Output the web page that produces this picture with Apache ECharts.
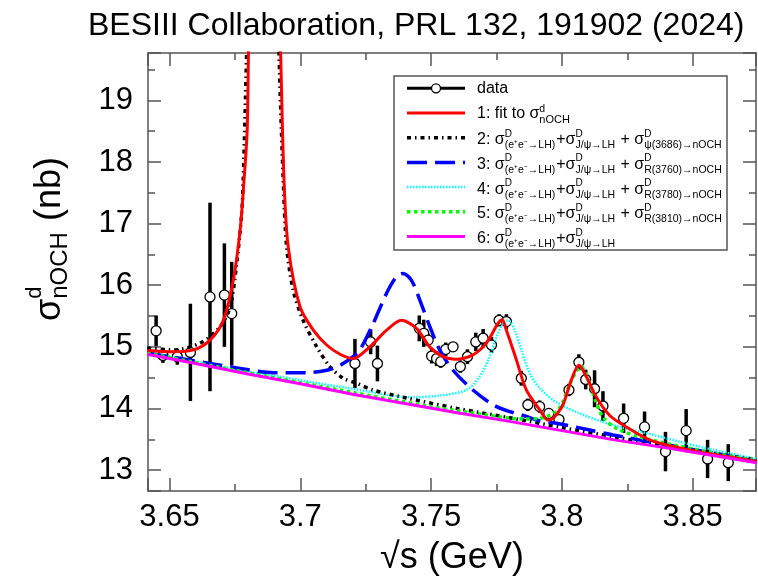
<!DOCTYPE html>
<html>
<head>
<meta charset="utf-8">
<title>BESIII nOCH cross section</title>
<script src="https://cdn.jsdelivr.net/npm/echarts@6.0.0/dist/echarts.min.js"></script>
<style>
html,body{margin:0;padding:0;background:#fff;}
#chart{width:758px;height:582px;}
</style>
</head>
<body>
<div id="chart"></div>
<script>
// ---------------- data ----------------
const titleText = 'BESIII Collaboration, PRL 132, 191902 (2024)';
const xAxisName = '√s (GeV)';
const XMIN = 3.6418, XMAX = 3.8742, YMIN = 12.66, YMAX = 19.77;

// measured points: sqrt(s) [GeV], sigma [nb], error [nb]
const dataX = [3.6449, 3.6475, 3.6530, 3.6580, 3.6655, 3.6710, 3.6738,
  3.7209, 3.7269, 3.7295, 3.7455, 3.7472, 3.7489, 3.7502, 3.7521, 3.7537, 3.7556, 3.7584,
  3.7612, 3.7639, 3.7671, 3.7699, 3.7731, 3.7760, 3.7788, 3.7845, 3.7870, 3.7915, 3.7950,
  3.7989, 3.8027, 3.8065, 3.8091, 3.8125, 3.8157, 3.8236, 3.8316, 3.8396, 3.8475, 3.8557, 3.8636];
const dataY = [15.26, 14.86, 14.84, 14.91, 15.81, 15.84, 15.54,
  14.73, 15.08, 14.73, 15.30, 15.22, 15.11, 14.85, 14.81, 14.76, 14.96, 15.00,
  14.68, 14.84, 15.08, 15.14, 15.03, 15.43, 15.41, 14.49, 14.06, 14.03, 13.92,
  13.82, 14.30, 14.75, 14.47, 14.32, 14.04, 13.84, 13.70, 13.30, 13.64, 13.18, 13.12];
const dataErr = [0.25, 0.12, 0.13, 0.79, 1.53, 0.84, 0.84,
  0.40, 0.20, 0.29, 0.21, 0.22, 0.10, 0.12, 0.12, 0.10, 0.11, 0.08,
  0.10, 0.12, 0.15, 0.15, 0.13, 0.10, 0.12, 0.12, 0.10, 0.10, 0.08,
  0.08, 0.10, 0.13, 0.16, 0.30, 0.24, 0.24, 0.25, 0.32, 0.35, 0.31, 0.30];

// 1: total fit
const fitX = [3.6415, 3.6515, 3.6592, 3.6655, 3.6706, 3.6744, 3.6770, 3.6785, 3.6797, 3.6802, 3.6820,
  3.6860, 3.6900, 3.6925, 3.6938, 3.6954, 3.6999, 3.7050, 3.7101, 3.7152, 3.7202, 3.7266, 3.7330,
  3.7387, 3.7444, 3.7495, 3.7546, 3.7597, 3.7660, 3.7711, 3.7756, 3.7772, 3.7788, 3.7826, 3.7864,
  3.7915, 3.7947, 3.7966, 3.8004, 3.8036, 3.8065, 3.8093, 3.8131, 3.8182, 3.8246, 3.8335, 3.8449,
  3.8600, 3.8745];
const fitY = [14.94, 14.92, 14.95, 15.11, 15.43, 16.08, 16.89, 17.70, 18.51, 19.77, 24.0,
  40.0, 24.0, 19.77, 17.70, 16.62, 15.65, 15.27, 15.03, 14.88, 14.81, 15.00, 15.27,
  15.43, 15.30, 15.00, 14.84, 14.80, 14.87, 15.06, 15.38, 15.44, 15.27, 14.79, 14.30,
  13.98, 13.81, 13.84, 14.06, 14.46, 14.70, 14.52, 14.19, 13.89, 13.70, 13.49, 13.36,
  13.24, 13.14];

// 2: continuum + J/psi + psi(3686)
const psiX = [3.6415, 3.6515, 3.6617, 3.6694, 3.6732, 3.6757, 3.6776, 3.6782, 3.6795, 3.6820, 3.6860,
  3.6900, 3.6919, 3.6935, 3.6948, 3.6973, 3.7011, 3.7063, 3.7113, 3.7164, 3.7215, 3.7277, 3.7406,
  3.7600, 3.7800, 3.8000, 3.8200, 3.8400, 3.8600, 3.8745];
const psiY = [14.98, 14.95, 15.06, 15.33, 15.65, 16.35, 17.16, 17.70, 19.77, 24.0, 40.0,
  24.0, 19.77, 17.70, 16.62, 15.92, 15.43, 15.00, 14.68, 14.49, 14.41, 14.30, 14.17,
  14.00, 13.85, 13.69, 13.54, 13.40, 13.26, 13.16];

// 3: continuum + J/psi + R(3760)
const r3760X = [3.6415, 3.6643, 3.6770, 3.6897, 3.7024, 3.7101, 3.7152, 3.7202, 3.7228, 3.7279, 3.7330,
  3.7368, 3.7393, 3.7425, 3.7457, 3.7495, 3.7533, 3.7584, 3.7660, 3.7750, 3.7864, 3.7915, 3.7979,
  3.8106, 3.8195, 3.8400, 3.8600, 3.8745];
const r3760Y = [14.90, 14.74, 14.65, 14.58, 14.58, 14.62, 14.70, 14.84, 14.95, 15.38, 15.87,
  16.14, 16.19, 16.08, 15.76, 15.33, 14.95, 14.62, 14.30, 14.03, 13.87, 13.80, 13.76,
  13.65, 13.57, 13.41, 13.26, 13.14];

// 4: continuum + J/psi + R(3780)
const r3780X = [3.6415, 3.6600, 3.6800, 3.7000, 3.7200, 3.7431, 3.7533, 3.7635, 3.7686, 3.7724, 3.7750,
  3.7775, 3.7794, 3.7820, 3.7845, 3.7877, 3.7915, 3.7979, 3.8068, 3.8143, 3.8220, 3.8322, 3.8449,
  3.8576, 3.8745];
const r3780Y = [14.91, 14.76, 14.60, 14.46, 14.32, 14.18, 14.21, 14.30, 14.52, 14.84, 15.16,
  15.38, 15.43, 15.27, 14.95, 14.57, 14.33, 14.10, 13.92, 13.80, 13.70, 13.60, 13.46,
  13.33, 13.18];

// 5: continuum + J/psi + R(3810)
const r3810X = [3.6415, 3.6800, 3.7200, 3.7500, 3.7700, 3.7850, 3.7915, 3.7979, 3.8004, 3.8029, 3.8055,
  3.8074, 3.8093, 3.8106, 3.8131, 3.8157, 3.8207, 3.8296, 3.8424, 3.8600, 3.8745];
const r3810Y = [14.90, 14.58, 14.26, 14.03, 13.90, 13.83, 13.84, 13.95, 14.11, 14.38, 14.60,
  14.68, 14.55, 14.41, 14.10, 13.86, 13.68, 13.54, 13.41, 13.26, 13.15];

// 6: continuum + J/psi
const bgX = [3.6415, 3.66, 3.68, 3.70, 3.72, 3.74, 3.76, 3.78, 3.80, 3.82, 3.84, 3.86, 3.8745];
const bgY = [14.88, 14.73, 14.56, 14.40, 14.23, 14.08, 13.93, 13.79, 13.64, 13.49, 13.36, 13.22, 13.12];

// legend texts (tokens: plain strings or stacked {sup, sub})
const S1 = {sup: 'D', sub: '(e⁺e⁻→LH)'};
const S2 = {sup: 'D', sub: 'J/ψ→LH'};
const legendTexts = [
  ['data'],
  ['1: fit to σ', {sup: 'd', sub: 'nOCH'}],
  ['2: σ', S1, '+σ', S2, ' + σ', {sup: 'D', sub: 'ψ(3686)→nOCH'}],
  ['3: σ', S1, '+σ', S2, ' + σ', {sup: 'D', sub: 'R(3760)→nOCH'}],
  ['4: σ', S1, '+σ', S2, ' + σ', {sup: 'D', sub: 'R(3780)→nOCH'}],
  ['5: σ', S1, '+σ', S2, ' + σ', {sup: 'D', sub: 'R(3810)→nOCH'}],
  ['6: σ', S1, '+σ', S2]
];
const yNameTokens = ['σ', {sup: 'd', sub: 'nOCH'}, ' (nb)'];

// ---------------- styles ----------------
const FF = '"Liberation Sans", Arial, Helvetica, sans-serif';
const FRAME = '#555';
const curveStyles = [
  {color: '#ff0000', width: 3, dash: 'solid'},
  {color: '#000000', width: 3.5, dash: [4, 4, 1.5, 4]},
  {color: '#0000ff', width: 3.5, dash: [20, 8]},
  {color: '#00ffff', width: 2.5, dash: [1.5, 1.5]},
  {color: '#00ff00', width: 3.5, dash: [3.5, 3.5]},
  {color: '#ff00ff', width: 3, dash: 'solid'}
];
const curveZ = [8, 5, 6, 4, 7, 9];

// ---------------- helpers ----------------
const mctx = document.createElement('canvas').getContext('2d');
function tw(s, size) { mctx.font = size + 'px ' + FF; return mctx.measureText(s).width; }
function txt(s, x, base, size) {
  return {type: 'text', x: x, y: base - 0.34 * size, silent: true,
    style: {text: s, font: size + 'px ' + FF, fill: '#000', align: 'left', verticalAlign: 'middle',
      textAlign: 'left', textVerticalAlign: 'middle'}};
}
function latex(tokens, x0, base, o) {
  const els = []; let x = x0;
  tokens.forEach(t => {
    if (typeof t === 'string') { els.push(txt(t, x, base, o.main)); x += tw(t, o.main); }
    else {
      let w = 0;
      if (t.sup) { els.push(txt(t.sup, x, base - o.supDy, o.sup)); w = Math.max(w, tw(t.sup, o.sup)); }
      if (t.sub) { els.push(txt(t.sub, x, base + o.subDy, o.sub)); w = Math.max(w, tw(t.sub, o.sub)); }
      x += w + 1;
    }
  });
  return els;
}
function zip(xs, ys) { return xs.map((x, i) => [x, ys[i]]); }

// ---------------- legend graphic ----------------
const LX0 = 407, LX1 = 465, LTX = 477;
const rowY = [88.3, 113, 137.7, 162.4, 187.1, 211.8, 236.5];
const legendEls = [{type: 'rect', shape: {x: 394, y: 76, width: 333, height: 174},
  style: {fill: '#fff', stroke: FRAME, lineWidth: 1.5}, z: 100}];
legendEls.push({type: 'line', shape: {x1: LX0, y1: rowY[0], x2: LX1, y2: rowY[0]},
  style: {stroke: '#000', lineWidth: 3}, z: 101});
legendEls.push({type: 'circle', shape: {cx: (LX0 + LX1) / 2, cy: rowY[0], r: 4.5},
  style: {fill: '#fff', stroke: '#000', lineWidth: 1.3}, z: 102});
curveStyles.forEach((s, i) => {
  const y = rowY[i + 1];
  legendEls.push({type: 'line', shape: {x1: LX0, y1: y, x2: LX1, y2: y},
    style: {stroke: s.color, lineWidth: s.width, lineDash: s.dash === 'solid' ? null : s.dash}, z: 101});
});
legendTexts.forEach((tokens, i) => {
  let base, o;
  if (i === 0) { base = rowY[0] + 6; o = {main: 16}; }
  else if (i === 1) { base = rowY[1] + 5.7; o = {main: 16, sup: 10.5, sub: 11, supDy: 6, subDy: 5}; }
  else { base = rowY[i] + 7.7; o = {main: 16, sup: 10, sub: 10.5, supDy: 8, subDy: 3.5}; }
  latex(tokens, LTX, base, o).forEach(e => { e.z = 103; legendEls.push(e); });
});

// y-axis title (rotated)
const yName = {type: 'group', x: 62, y: 321, rotation: Math.PI / 2,
  children: latex(yNameTokens, 0, 0, {main: 36, sup: 22, sub: 24, supDy: 20, subDy: 7})};

// ---------------- chart ----------------
const chart = echarts.init(document.getElementById('chart'), null, {renderer: 'canvas'});

function axisCommon(extra) {
  return Object.assign({
    type: 'value',
    axisLine: {show: true, onZero: false, lineStyle: {color: FRAME, width: 1.5}},
    axisTick: {show: true, inside: true, length: 13, lineStyle: {color: FRAME, width: 1.5}},
    minorTick: {show: true, splitNumber: 2, length: 7, lineStyle: {color: FRAME, width: 1.5}},
    splitLine: {show: false}, minorSplitLine: {show: false}
  }, extra);
}

const lineSeries = [
  {name: '1: fit', x: fitX, y: fitY},
  {name: '2: psi(3686)', x: psiX, y: psiY},
  {name: '3: R(3760)', x: r3760X, y: r3760Y},
  {name: '4: R(3780)', x: r3780X, y: r3780Y},
  {name: '5: R(3810)', x: r3810X, y: r3810Y},
  {name: '6: continuum', x: bgX, y: bgY}
].map((c, i) => ({
  name: c.name, type: 'line', xAxisIndex: 0, yAxisIndex: 0,
  data: zip(c.x, c.y), showSymbol: false, symbol: 'none', smooth: i === 5 ? false : 0.3,
  clip: true, z: curveZ[i], silent: true,
  lineStyle: {color: curveStyles[i].color, width: curveStyles[i].width, type: curveStyles[i].dash}
}));

const option = {
  animation: false,
  backgroundColor: '#fff',
  textStyle: {fontFamily: FF},
  title: {text: titleText, left: 88, top: 10, padding: 0,
    textStyle: {fontSize: 32, fontWeight: 'normal', color: '#000', fontFamily: FF}},
  grid: {left: 148, right: 2, top: 53, bottom: 91, containLabel: false, outerBoundsMode: 'none'},
  xAxis: [
    axisCommon({position: 'bottom', min: XMIN, max: XMAX,
      axisLabel: {show: true, margin: 11, fontSize: 31, color: '#000', fontFamily: FF,
        showMinLabel: false, showMaxLabel: false},
      name: xAxisName, nameLocation: 'middle', nameGap: 49,
      nameTextStyle: {fontSize: 36, color: '#000', fontFamily: FF}}),
    axisCommon({position: 'top', min: XMIN, max: XMAX, axisLabel: {show: false}})
  ],
  yAxis: [
    axisCommon({position: 'left', min: YMIN, max: YMAX,
      axisLabel: {show: true, margin: 15, fontSize: 31, color: '#000', fontFamily: FF,
        showMinLabel: false, showMaxLabel: false}}),
    axisCommon({position: 'right', min: YMIN, max: YMAX, axisLabel: {show: false}})
  ],
  series: [
    {name: 'data errors', type: 'custom', xAxisIndex: 0, yAxisIndex: 0, z: 2, silent: true,
      data: dataX.map((x, i) => [x, dataY[i], dataErr[i]]),
      encode: {x: 0, y: 1},
      renderItem: function (params, api) {
        const x = api.value(0), y = api.value(1), e = api.value(2);
        const p1 = api.coord([x, y + e]), p2 = api.coord([x, y - e]);
        return {type: 'line', shape: {x1: p1[0], y1: p1[1], x2: p2[0], y2: p2[1]},
          style: {stroke: '#000', lineWidth: 3.5}};
      }},
    {name: 'data', type: 'scatter', xAxisIndex: 0, yAxisIndex: 0, z: 3, silent: true,
      data: zip(dataX, dataY), symbol: 'circle', symbolSize: 10,
      itemStyle: {color: '#fff', borderColor: '#000', borderWidth: 1.3, opacity: 1}},
    ...lineSeries
  ],
  graphic: {elements: [yName].concat(legendEls)}
};
chart.setOption(option);
</script>
</body>
</html>
